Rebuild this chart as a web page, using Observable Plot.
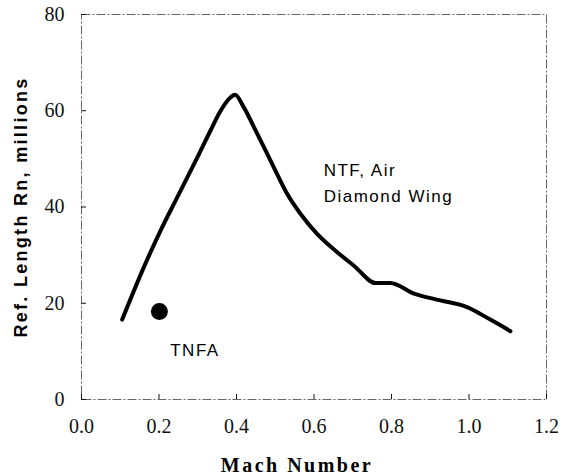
<!DOCTYPE html>
<html>
<head>
<meta charset="utf-8">
<script src="https://cdn.jsdelivr.net/npm/d3@7"></script>
<script src="https://cdn.jsdelivr.net/npm/@observablehq/plot@0.6"></script>
<style>
  html, body { margin: 0; padding: 0; background: #fff; }
  #chart { width: 564px; height: 476px; }
</style>
</head>
<body>
<div id="chart"></div>
<script>
// NTF, Air — Diamond Wing curve
const mach = [0.105, 0.161, 0.204, 0.247, 0.299, 0.333, 0.359, 0.385, 0.396, 0.419, 0.445, 0.471, 0.496, 0.531, 0.565, 0.608, 0.660, 0.703, 0.759, 0.797, 0.858, 0.926, 0.995, 1.055, 1.107];
const rn   = [16.6, 27.5, 35.1, 42.0, 50.3, 55.9, 60.0, 62.8, 63.3, 60.7, 56.6, 52.4, 48.3, 42.7, 38.6, 34.4, 30.6, 27.8, 24.2, 24.2, 22.0, 20.6, 19.2, 16.6, 14.2];
// TNFA point
const tnfaMach = [0.201];
const tnfaRn = [18.3];
// ticks
const xTicks = [0, 0.2, 0.4, 0.6, 0.8, 1.0, 1.2];
const yTicks = [0, 20, 40, 60, 80];
// annotations
const labels = [
  {x: 0.625, y: 47.5, text: "NTF, Air"},
  {x: 0.625, y: 42.2, text: "Diamond Wing"},
  {x: 0.229, y: 10.2, text: "TNFA"}
];

const curve = mach.map((m, i) => ({m, r: rn[i]}));
const tnfa = tnfaMach.map((m, i) => ({m, r: tnfaRn[i]}));

const serif = "'Liberation Serif', 'Times New Roman', serif";
const sans = "'Liberation Sans', Arial, sans-serif";

const chart = Plot.plot({
  width: 564,
  height: 476,
  marginLeft: 81,
  marginRight: 18,
  marginTop: 14,
  marginBottom: 77,
  style: {background: "#fff", color: "#111", fontFamily: serif, fontSize: "20px"},
  x: {domain: [0, 1.2]},
  y: {domain: [0, 80]},
  marks: [
    Plot.frame({stroke: "#666", strokeWidth: 1, strokeDasharray: "9,2,2,2"}),
    Plot.axisX({ticks: xTicks, tickFormat: d3.format(".1f"), tickSize: -5, tickPadding: 24,
      fontSize: 20, label: null}),
    Plot.axisY({ticks: yTicks, tickSize: -5, tickPadding: 22,
      fontSize: 20, label: null}),
    Plot.line(curve, {x: "m", y: "r", stroke: "#000", strokeWidth: 4, curve: "monotone-x", strokeLinecap: "round", strokeLinejoin: "round"}),
    Plot.dot(tnfa, {x: "m", y: "r", r: 8.5, fill: "#000", stroke: "none"}),
    Plot.text(labels, {x: "x", y: "y", text: "text", textAnchor: "start", fontSize: 17,
      fontFamily: sans, fill: "#000"})
  ]
});

const svg = d3.select(chart);
svg.selectAll("text").filter(function() { return this.textContent === "NTF, Air" || this.textContent === "Diamond Wing" || this.textContent === "TNFA"; })
  .style("letter-spacing", "1.5px");
svg.append("text")
  .attr("transform", "translate(27,207) rotate(-90)")
  .attr("text-anchor", "middle")
  .style("font-family", sans)
  .style("font-weight", "bold")
  .style("font-size", "18px")
  .style("letter-spacing", "2.3px")
  .attr("fill", "#000")
  .text("Ref. Length Rn, millions");
svg.append("text")
  .attr("x", 297)
  .attr("y", 472)
  .attr("text-anchor", "middle")
  .style("font-family", serif)
  .style("font-weight", "bold")
  .style("font-size", "20px")
  .style("letter-spacing", "2.5px")
  .attr("fill", "#000")
  .text("Mach Number");

document.getElementById("chart").appendChild(chart);
</script>
</body>
</html>
